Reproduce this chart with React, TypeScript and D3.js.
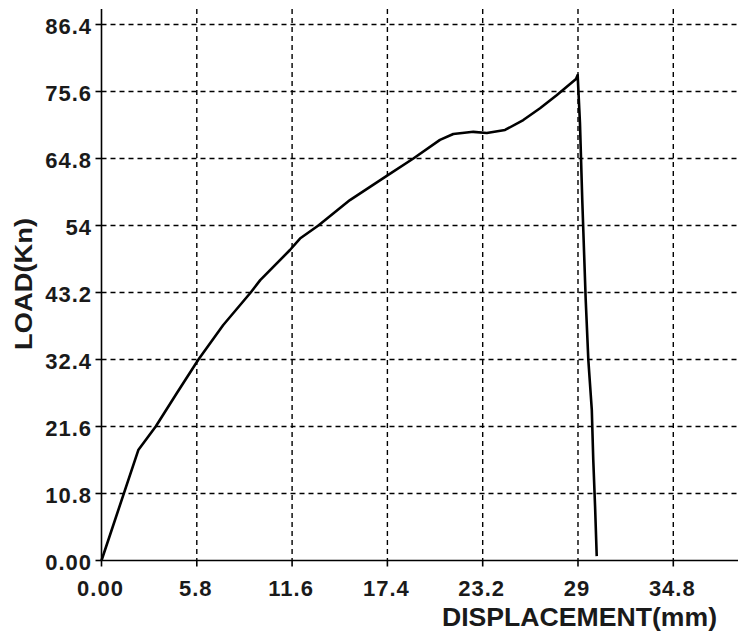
import React from "react";
import * as d3 from "d3";

// Load–displacement record of the specimen
const displacement = [
  0, 2.24, 3.3, 4.58, 5.9, 7.41, 9.08, 9.66, 11.47, 12.08, 13.2, 15.12, 17.36,
  18.98, 20.6, 21.41, 22.63, 23.45, 24.56, 25.67, 26.69, 27.7, 28.88, 28.98,
  29.12, 29.26, 29.47, 29.63, 29.84, 29.93, 30.04, 30.14,
];
const load = [
  0, 17.8, 21.6, 26.95, 32.4, 37.96, 43.2, 45.2, 50.05, 51.9, 54, 58.1, 62.0,
  64.8, 67.8, 68.75, 69.1, 68.9, 69.4, 71.0, 72.9, 75.0, 77.6, 78.25, 70.5,
  58.1, 42.0, 32.3, 24.3, 16.2, 8.7, 0.7,
];

const xTicks = [0, 5.8, 11.6, 17.4, 23.2, 29, 34.8];
const xTickLabels = ["0.00", "5.8", "11.6", "17.4", "23.2", "29", "34.8"];
const yTicks = [0, 10.8, 21.6, 32.4, 43.2, 54, 64.8, 75.6, 86.4];
const yTickLabels = ["0.00", "10.8", "21.6", "32.4", "43.2", "54", "64.8", "75.6", "86.4"];

const W = 747;
const H = 635;
const left = 101.5;
const right = 740;
const bottom = 560.5;
const top = 9;

export default function App() {
  const x = d3.scaleLinear().domain([0, 38.86]).range([left, right]);
  const y = d3.scaleLinear().domain([0, 88.9]).range([bottom, top]);

  const pts: [number, number][] = displacement.map((d, i) => [d, load[i]]);
  const path = d3
    .line<[number, number]>()
    .x((d) => x(d[0]))
    .y((d) => y(d[1]))(pts);

  const font = "'Liberation Sans', Arial, sans-serif";
  const ink = "#1a1a1a";

  return (
    <svg
      width={W}
      height={H}
      style={{ position: "absolute", left: 0, top: 0, background: "#fff" }}
    >
      {/* grid */}
      <g stroke="#000" strokeWidth={1.4} strokeDasharray="5,4" fill="none">
        {yTicks.slice(1).map((t) => (
          <line key={"gy" + t} x1={left} x2={right} y1={y(t)} y2={y(t)} />
        ))}
        {xTicks.slice(1).map((t) => (
          <line key={"gx" + t} x1={x(t)} x2={x(t)} y1={top} y2={bottom} />
        ))}
      </g>

      {/* axes */}
      <g stroke="#000" strokeWidth={1.6}>
        <line x1={left} x2={left} y1={top} y2={bottom} />
        <line x1={left} x2={738} y1={bottom} y2={bottom} />
        {yTicks.map((t) => (
          <line key={"ty" + t} x1={left - 6} x2={left} y1={y(t)} y2={y(t)} />
        ))}
        {xTicks.map((t) => (
          <line key={"tx" + t} x1={x(t)} x2={x(t)} y1={bottom} y2={bottom + 6} />
        ))}
      </g>

      {/* tick labels */}
      <g fontFamily={font} fontWeight="bold" fontSize={22} fill={ink} letterSpacing={1}>
        {yTicks.map((t, i) => (
          <text key={"ly" + t} x={92} y={y(t) + 9} textAnchor="end">
            {yTickLabels[i]}
          </text>
        ))}
        {xTicks.map((t, i) => (
          <text key={"lx" + t} x={x(t) - 1} y={596} textAnchor="middle">
            {xTickLabels[i]}
          </text>
        ))}
      </g>

      {/* axis titles */}
      <text
        x={442}
        y={626}
        fontFamily={font}
        fontWeight="bold"
        fontSize={25}
        fill={ink}
        textLength={275}
        lengthAdjust="spacingAndGlyphs"
      >
        DISPLACEMENT(mm)
      </text>
      <text
        transform="translate(32,350) rotate(-90)"
        fontFamily={font}
        fontWeight="bold"
        fontSize={23}
        fill={ink}
        textLength={132}
        lengthAdjust="spacingAndGlyphs"
      >
        LOAD(Kn)
      </text>

      {/* curve */}
      <path d={path ?? ""} fill="none" stroke="#000" strokeWidth={2.6} strokeLinejoin="round" />
    </svg>
  );
}
